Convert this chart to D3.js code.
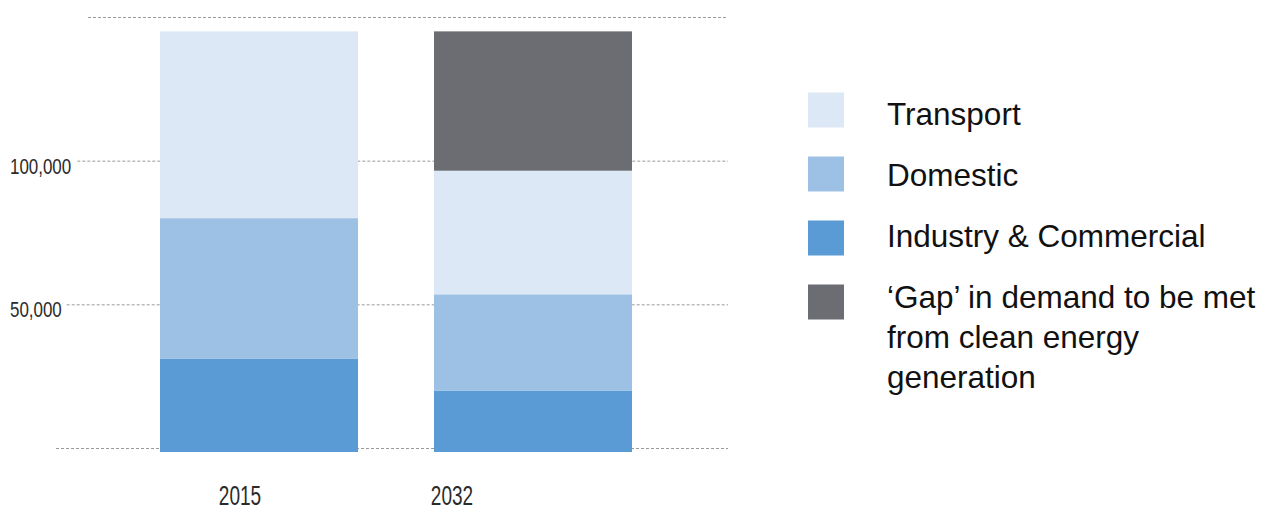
<!DOCTYPE html>
<html>
<head>
<meta charset="utf-8">
<script src="https://cdn.jsdelivr.net/npm/d3@7"></script>
<style>
  html, body { margin: 0; padding: 0; background: #ffffff; }
  svg { display: block; }
  .tick-label { font-family: "Liberation Sans", Arial, sans-serif; fill: #2b2b2b; }
  .legend-text { font-family: "Liberation Sans", Arial, sans-serif; fill: #111; }
</style>
</head>
<body>
<svg id="chart" width="1275" height="510"></svg>
<script>
// Energy demand by sector (stacked), two years
const years = ["2015", "2032"];
const seriesNames = ["Industry & Commercial", "Domestic", "Transport", "Gap"];
const industry = [31000, 20000];
const domestic = [49000, 33500];
const transport = [65000, 43000];
const gap = [0, 48500];
const tickValues = [0, 50000, 100000, 150000];
const tickLabels = ["", "50,000", "100,000", ""];
const legendLabels = [
  ["Transport"],
  ["Domestic"],
  ["Industry & Commercial"],
  ["\u2018Gap\u2019 in demand to be met", "from clean energy", "generation"]
];
const legendKeys = ["Transport", "Domestic", "Industry & Commercial", "Gap"];

const colors = {
  "Industry & Commercial": "#5b9bd5",
  "Domestic": "#9dc1e5",
  "Transport": "#dde8f6",
  "Gap": "#6b6d72"
};

const rows = years.map((yr, i) => ({
  year: yr,
  "Industry & Commercial": industry[i],
  "Domestic": domestic[i],
  "Transport": transport[i],
  "Gap": gap[i]
}));

const svg = d3.select("#chart");

const x = d3.scaleBand()
  .domain(years)
  .range([122, 670])
  .paddingInner(0.2774)
  .paddingOuter(0.1387);

const xLabel = d3.scalePoint().domain(years).range([240, 452]);

const y = d3.scaleLinear().domain([0, 150000]).range([448, 17]);

// gridlines start a little further right as the value rises
const gridStart = d3.scaleLinear().domain([0, 150000]).range([56, 88]);
const gridEnd = 728;

const grid = svg.append("g");
grid.selectAll("line")
  .data(tickValues)
  .join("line")
  .attr("x1", d => gridStart(d))
  .attr("x2", gridEnd)
  .attr("y1", d => y(d) + 0.5)
  .attr("y2", d => y(d) + 0.5)
  .attr("stroke", "#9a9a9a")
  .attr("stroke-width", 1)
  .attr("stroke-dasharray", "3,2");

// condensed numerals for the value axis
grid.selectAll("text")
  .data(tickValues.map((v, i) => ({ v, label: tickLabels[i] })).filter(d => d.label))
  .join("text")
  .attr("class", "tick-label")
  .attr("font-size", 22)
  .attr("transform", d => `translate(10,${y(d.v) + 13}) scale(0.77,1)`)
  .text(d => d.label);

// stacked bars
const stack = d3.stack().keys(seriesNames)(rows);
const baseOverhang = 4;

const layers = svg.append("g").selectAll("g")
  .data(stack)
  .join("g")
  .attr("fill", d => colors[d.key]);

layers.selectAll("rect")
  .data(d => d.filter(s => s[1] - s[0] > 0))
  .join("rect")
  .attr("x", d => x(d.data.year))
  .attr("width", x.bandwidth())
  .attr("y", d => y(d[1]))
  .attr("height", d => y(d[0]) - y(d[1]) + (d[0] === 0 ? baseOverhang : 0));

// category labels
svg.append("g").selectAll("text")
  .data(years)
  .join("text")
  .attr("class", "tick-label")
  .attr("font-size", 28)
  .attr("text-anchor", "middle")
  .attr("transform", d => `translate(${xLabel(d)},505) scale(0.68,1)`)
  .text(d => d);

// legend
const swatchY = d3.scaleLinear().domain([0, 3]).range([110, 302]);
const textY = d3.scaleLinear().domain([0, 3]).range([125, 308]);
const legend = svg.append("g");

legend.selectAll("rect")
  .data(legendKeys)
  .join("rect")
  .attr("x", 808)
  .attr("width", 36)
  .attr("y", (d, i) => swatchY(i) - 17.5)
  .attr("height", 35)
  .attr("fill", d => colors[d]);

legend.selectAll("text")
  .data(legendLabels)
  .join("text")
  .attr("class", "legend-text")
  .attr("font-size", 31.5)
  .attr("x", 887)
  .attr("y", (d, i) => textY(i))
  .selectAll("tspan")
  .data(d => d)
  .join("tspan")
  .attr("x", 887)
  .attr("dy", (d, i) => i === 0 ? 0 : 40)
  .text(d => d);
</script>
</body>
</html>
